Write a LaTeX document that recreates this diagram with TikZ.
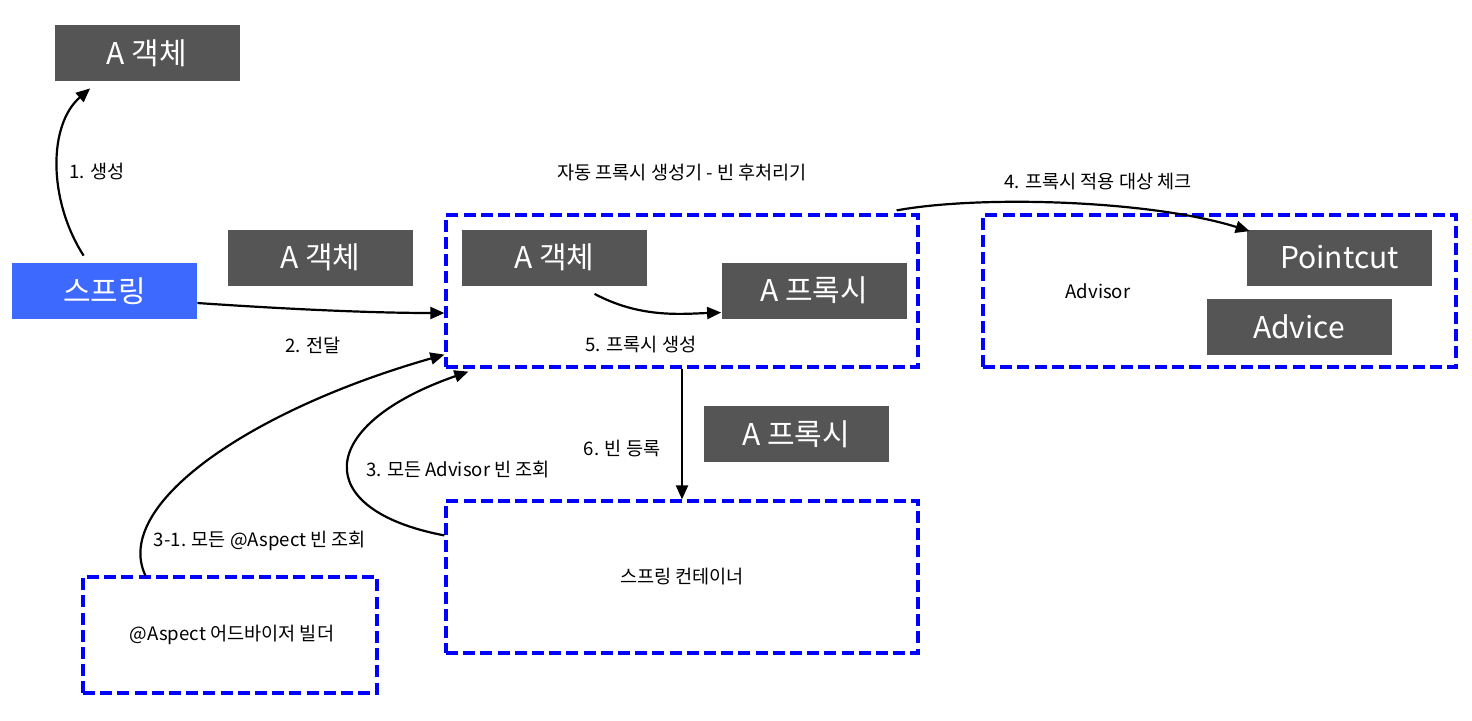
\documentclass[tikz,border=0pt]{standalone}
\usepackage{fontspec}
\setmainfont{Noto Sans CJK KR}
\usetikzlibrary{arrows.meta,calc}
\definecolor{boxgray}{HTML}{555555}
\definecolor{springblue}{HTML}{3D69FF}
\definecolor{dashblue}{HTML}{0000FF}
\begin{document}
\begin{tikzpicture}[x=0.5pt,y=-0.5pt,
  graybox/.style={fill=boxgray,text=white,font=\fontsize{15}{18}\selectfont,minimum width=92.5pt,minimum height=28pt,inner sep=0pt},
  bluebox/.style={fill=springblue,text=white,font=\fontsize{15}{18}\selectfont,minimum width=92.5pt,minimum height=28pt,inner sep=0pt},
  dashbox/.style={draw=dashblue,line width=1.6pt,dash pattern=on 6pt off 2.6pt,minimum width=#1,minimum height=76pt,inner sep=0pt},
  lbl/.style={font=\fontsize{9.3}{11}\selectfont,text=black,inner sep=0pt},
  arr/.style={line width=1.1pt,-{Triangle[length=7pt,width=6pt]}}]
\useasboundingbox (0,0) rectangle (1472,720);
% dashed containers
\node[dashbox=236pt] (creator) at (682,291) {};
\node[dashbox=236.5pt] (advisor) at (1219.5,291) {};
\node[dashbox=236pt] (container) at (682,577) {};
\node[dashbox=147pt,minimum height=58pt] (builder) at (230,635) {};
% boxes
\node[graybox] (a1) at (147,53) {A 객체};
\node[bluebox] (spring) at (104.5,291) {스프링};
\node[graybox] (a2) at (320.5,257.5) {A 객체};
\node[graybox] (a3) at (554.5,257.5) {A 객체};
\node[graybox] (p1) at (814,290.5) {A 프록시};
\node[graybox] (pointcut) at (1339.5,257.5) {Pointcut};
\node[graybox] (advice) at (1299,327) {Advice};
\node[graybox] (p2) at (796,434) {A 프록시};
% labels
\node[lbl] (tcreator) at (682,172) {자동 프록시 생성기 - 빈 후처리기};
\node[lbl] (tadvisor) at (1098,291) {Advisor};
\node[lbl] (tcontainer) at (682,577) {스프링 컨테이너};
\node[lbl] (tbuilder) at (232,635) {@Aspect 어드바이저 빌더};
\node[lbl] (l1) at (97,172) {1. 생성};
\node[lbl] (l2) at (313,345) {2. 전달};
\node[lbl] (l3) at (458,470) {3. 모든 Advisor 빈 조회};
\node[lbl] (l31) at (260,541) {3-1. 모든 @Aspect 빈 조회};
\node[lbl] (l4) at (1098,182) {4. 프록시 적용 대상 체크};
\node[lbl] (l5) at (641,345) {5. 프록시 생성};
\node[lbl] (l6) at (622,449) {6. 빈 등록};
% connectors
\coordinate (s1) at ($(spring.north west)+(72,-7)$);
\coordinate (e1) at ($(a1.south west)+(36,7)$);
\draw[arr] (s1) .. controls (48,200) and (48,125) .. (e1);
\coordinate (s2) at ($(spring.east)+(0,12)$);
\coordinate (e2) at ($(creator.west)+(0,22)$);
\draw[arr] (s2) .. controls (300,310) and (380,313) .. (e2);
\coordinate (s31) at ($(builder.north west)+(64,0)$);
\coordinate (e31) at ($(creator.south west)+(0,-14)$);
\draw[arr] (s31) .. controls (112,505) and (250,410) .. (e31);
\coordinate (s3) at ($(container.north west)+(0,36)$);
\coordinate (e3) at ($(creator.south west)+(24,3)$);
\draw[arr] (s3) .. controls (310,510) and (315,425) .. (e3);
\coordinate (s4) at ($(creator.north east)+(-23,-3)$);
\coordinate (e4) at ($(pointcut.north west)+(3,2)$);
\draw[arr] (s4) .. controls (980,195) and (1150,200) .. (e4);
\coordinate (s5) at ($(a3.south west)+(133,8)$);
\draw[arr] (s5) .. controls (640,318) and (680,314) .. ($(p1.west)+(0,22)$);
\draw[arr] (creator.south) -- (container.north);
\end{tikzpicture}
\end{document}
